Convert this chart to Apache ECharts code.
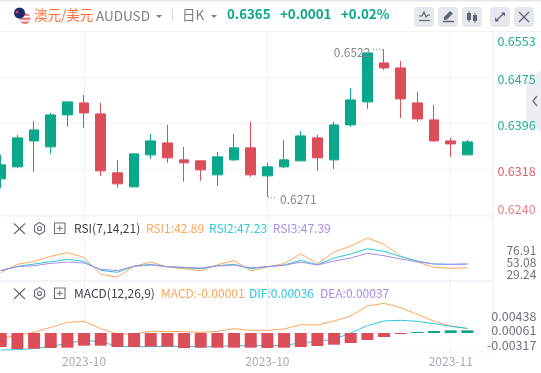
<!DOCTYPE html>
<html><head><meta charset="utf-8">
<style>html,body{margin:0;padding:0;background:#fff}#c{width:541px;height:373px}</style>
<script src="https://cdn.jsdelivr.net/npm/echarts@6/dist/echarts.min.js"></script>
</head><body><div id="c"></div>
<script>
const months=["2023-09","2023-09","2023-09","2023-09","2023-09","2023-10","2023-10","2023-10","2023-10","2023-10","2023-10","2023-10","2023-10","2023-10","2023-10","2023-10","2023-10","2023-10","2023-10","2023-10","2023-10","2023-10","2023-10","2023-10","2023-10","2023-10","2023-10","2023-11","2023-11",""];
const labelledIndexes=[5,16,27];
const opens=[.63020,.63224,.63666,.63564,.64108,.64312,.64125,.63122,.62884,.63428,.63632,.63343,.63326,.63088,.63343,.63547,.63071,.63224,.63326,.63717,.63343,.63938,.64329,.64992,.64907,.64312,.64023,.63666,.63428];
const closes=[.63258,.63717,.63853,.64108,.64329,.64142,.63156,.62935,.63445,.63666,.63377,.63292,.63173,.63394,.63547,.63088,.63224,.63343,.63751,.63377,.63938,.64363,.65162,.64907,.64380,.64040,.63666,.63615,.63649];
const lows=[.62861,.63207,.63139,.63445,.63904,.63887,.63071,.62867,.62884,.63360,.63292,.62969,.62986,.62901,.63326,.63054,.62714,.63207,.63326,.63156,.63190,.63904,.64210,.64873,.64057,.63989,.63649,.63394,.63428];
const highs=[.63428,.63768,.64006,.64142,.64329,.64448,.64312,.63343,.63445,.63785,.63938,.63564,.63326,.63479,.63785,.63989,.63292,.63683,.63836,.63768,.63989,.64567,.65162,.65224,.65026,.64500,.64278,.63717,.63683];
const priceTicks=[.6240,.6318,.6396,.6475,.6553];
const rsi1=[31.9,48.4,54.4,64.3,71.6,62.3,28.6,23.3,44.5,53.1,43.2,39.8,35.9,47.8,55.7,35.9,43.2,49.8,69.6,49.8,72.9,84.8,100.7,88.1,65,53.1,42.5,40.5,41.8];
const rsi2=[35.9,44.5,49.1,53.7,58.4,54.4,36.5,32.6,45.1,48.4,43.8,41.8,39.8,45.8,48.4,39.8,43.8,47.1,56.4,47.8,61,69,79.5,74.2,63.7,55.1,49.1,48.4,49.1];
const rsi3=[36.5,43.8,45.8,50.4,53.1,51.1,38.5,35.9,44.5,47.1,43.8,42.5,41.2,45.1,47.1,41.8,43.8,46.4,53.1,47.1,55.1,61,70.3,65.6,59,53.7,49.1,48.4,49.1];
const rsiTicks=[29.24,53.08,76.91];
const macdUpper=[-.00135,-.00063,.00018,.00152,.00287,.00314,.00117,-.00027,-.00027,.00045,.00045,.00036,.00018,.00045,.00117,.00072,.00072,.00108,.00224,.00215,.00323,.00457,.00726,.00798,.00681,.00502,.00314,.00188,.00117];
const macdLower=[-.00457,-.00448,-.00422,-.00359,-.00287,-.00188,-.00242,-.00350,-.00368,-.00368,-.00359,-.00359,-.00377,-.00359,-.00341,-.00341,-.00341,-.00332,-.00269,-.00224,-.00170,0,.00197,.00323,.00341,.00314,.00251,.00179,.00125];
const macdBars=[-.00377,-.00431,-.00422,-.00404,-.00395,-.00341,-.00341,-.00377,-.00377,-.00368,-.00368,-.00404,-.00395,-.00395,-.00395,-.00395,-.00404,-.00395,-.00377,-.00350,-.00314,-.00269,-.00188,-.00108,-.00027,.00009,.00054,.00072,.00072];
const macdTicks=[-.00317,.00061,.00438];

const GREEN='#0aa88a',RED='#dc4d5a',ORANGE='#ffa65c',CYAN='#2fc6df',PURPLE='#a88ce8',FONT='"Noto Sans CJK SC","Noto Sans",sans-serif';
const GRID='#f3f4f8',EDGE='#eef0f5',GLINE='#f2f3f7';
const chart=echarts.init(document.getElementById('c'),null,{renderer:'canvas'});
const candles=opens.map((o,i)=>[o,closes[i],lows[i],highs[i]]);
const showIdx=(i)=>labelledIndexes.includes(i);
const gridBase={left:-7.6,width:500,outerBoundsMode:'none',containLabel:false,show:true,borderColor:EDGE,borderWidth:1,backgroundColor:'transparent'};
const xBase=(showLabel)=>({type:'category',data:months,boundaryGap:true,
  axisLine:{show:false},axisTick:{show:false,alignWithLabel:true,interval:(i)=>showIdx(i)},
  splitLine:{show:true,alignWithLabel:true,interval:(i)=>showIdx(i),lineStyle:{color:GRID,width:1}},
  axisLabel:{show:showLabel,interval:(i)=>showIdx(i),color:'#a7abb9',fontSize:12,margin:3,fontFamily:FONT,hideOverlap:false,formatter:(v)=>v}});
const yBase={type:'value',position:'right',axisLine:{show:true,lineStyle:{color:EDGE}},axisTick:{show:false},
  splitLine:{show:false}};
const txt=(x,y,t,fill,size,weight,align)=>({type:'text',x:x,y:y,silent:true,z:50,style:{text:t,fill:fill,font:(weight||'normal')+' '+(size||12)+'px '+FONT,textVerticalAlign:'middle',textAlign:align||'left'}});
const line=(x1,y1,x2,y2,c,w,dash)=>({type:'line',silent:true,z:50,shape:{x1,y1,x2,y2},style:{stroke:c,lineWidth:w||1,lineDash:dash}});
const ICON='#5f6472',BTN='#e6e8ef';
const btn=(x)=>({type:'rect',silent:true,z:49,shape:{x:x,y:7,width:20,height:20,r:4},style:{fill:BTN}});
const paneIcons=(y)=>[
  line(14,y-5,25,y+5.5,'#6a6e7b',1.2),line(25,y-5,14,y+5.5,'#6a6e7b',1.2),
  {type:'polygon',silent:true,z:50,shape:{points:[[39.5,y-6],[44.5,y-3],[44.5,y+3],[39.5,y+6],[34.5,y+3],[34.5,y-3]]},style:{fill:'none',stroke:'#6a6e7b',lineWidth:1.1}},
  {type:'circle',silent:true,z:50,shape:{cx:39.5,cy:y,r:2},style:{fill:'none',stroke:'#6a6e7b',lineWidth:1.1}},
  {type:'rect',silent:true,z:50,shape:{x:54.5,y:y-5.5,width:10.5,height:10.5},style:{fill:'none',stroke:'#6a6e7b',lineWidth:1.1}},
  line(56.8,y-.2,62.8,y-.2,'#6a6e7b',1),line(59.8,y-3.2,59.8,y+2.8,'#6a6e7b',1)
];
const priceRich=(c)=>({color:c,fontSize:12.5,fontFamily:FONT,padding:[4,0,0,0]});
chart.setOption({
  animation:false,backgroundColor:'#fff',
  textStyle:{fontFamily:FONT},
  grid:[
    Object.assign({top:31.3,height:184},gridBase),
    Object.assign({top:216,height:65},gridBase),
    Object.assign({top:281,height:71},gridBase)
  ],
  xAxis:[Object.assign(xBase(false),{gridIndex:0}),Object.assign(xBase(false),{gridIndex:1}),Object.assign(xBase(true),{gridIndex:2})],
  yAxis:[
    Object.assign({},yBase,{gridIndex:0,min:.6240,max:.6553,
      axisTick:{show:false,customValues:priceTicks},
      splitLine:{show:true,lineStyle:{color:GLINE}},
      axisLabel:{customValues:priceTicks,fontSize:12.5,margin:5,fontFamily:FONT,hideOverlap:false,verticalAlignMinLabel:'bottom',verticalAlignMaxLabel:'top',
        rich:{g:priceRich('#1fb095'),r:priceRich('#e0606c'),l:priceRich('#e6808a')},
        formatter:(v)=>'{'+(v>.635?'g':(v<.63?'l':'r'))+'|'+v.toFixed(4)+'}'}}),
    Object.assign({},yBase,{gridIndex:1,min:15.4,max:144.4,
      axisTick:{show:false,customValues:rsiTicks},
      axisLabel:{customValues:rsiTicks,align:'right',margin:44,fontSize:12,color:'#6f7380',fontFamily:FONT,hideOverlap:false,formatter:(v)=>v.toFixed(2)}}),
    Object.assign({},yBase,{gridIndex:2,min:-.005111,max:.013988,
      axisTick:{show:false,customValues:macdTicks},
      axisLabel:{customValues:macdTicks,align:'right',margin:44,fontSize:12.5,color:'#6f7380',fontFamily:FONT,hideOverlap:false,formatter:(v)=>v.toFixed(5)}})
  ],
  series:[
    {type:'candlestick',xAxisIndex:0,yAxisIndex:0,data:candles,barWidth:10,
      itemStyle:{color:GREEN,color0:RED,borderColor:GREEN,borderColor0:RED,borderWidth:1},
      markPoint:{symbol:'circle',symbolSize:1,itemStyle:{color:'rgba(0,0,0,0)'},silent:true,data:[
        {coord:[23,.65224],value:'0.6522',label:{show:true,position:'inside',offset:[-32,3],color:'#85888f',fontSize:12,fontFamily:FONT,formatter:'0.6522'}},
        {coord:[16,.62714],value:'0.6271',label:{show:true,position:'inside',offset:[31,3],color:'#85888f',fontSize:12,fontFamily:FONT,formatter:'0.6271'}}
      ]}},
    {type:'line',name:'RSI1',xAxisIndex:1,yAxisIndex:1,data:rsi1,symbol:'none',lineStyle:{color:ORANGE,width:1},z:3},
    {type:'line',name:'RSI2',xAxisIndex:1,yAxisIndex:1,data:rsi2,symbol:'none',lineStyle:{color:CYAN,width:1},z:4},
    {type:'line',name:'RSI3',xAxisIndex:1,yAxisIndex:1,data:rsi3,symbol:'none',lineStyle:{color:PURPLE,width:1},z:5},
    {type:'line',name:'MACD',xAxisIndex:2,yAxisIndex:2,data:macdUpper,symbol:'none',lineStyle:{color:ORANGE,width:1},z:3},
    {type:'line',name:'DIF',xAxisIndex:2,yAxisIndex:2,data:macdLower,symbol:'none',lineStyle:{color:CYAN,width:1},z:4},
    {type:'bar',name:'HIST',xAxisIndex:2,yAxisIndex:2,data:macdBars,barWidth:12,barMinHeight:1,z:6,
      itemStyle:{color:(p)=>p.value>=0?'#0aa88a':RED}}
  ],
  graphic:[
    {type:'polygon',silent:true,z:-1,shape:{points:[[541,70],[526,82],[526,120],[541,132]]},style:{fill:'#eceef3'}},
    {type:'rect',silent:true,z:40,shape:{x:0,y:0,width:541,height:31},style:{fill:'#fff'}},
    {type:'rect',silent:true,z:41,shape:{x:0,y:0,width:541,height:1.5},style:{fill:'#e6e8ef'}},
    line(0,31.5,541,31.5,'#f3f4f7',1),
    {type:'circle',silent:true,z:50,shape:{cx:25,cy:18.5,r:5.5},style:{fill:'#e8808a'}},
    {type:'rect',silent:true,z:50,shape:{x:20,y:16,width:10,height:1.5},style:{fill:'#fff'}},
    {type:'rect',silent:true,z:50,shape:{x:20,y:20,width:10,height:1.5},style:{fill:'#fff'}},
    {type:'circle',silent:true,z:51,shape:{cx:19.5,cy:13,r:5.5},style:{fill:'#1b2a6e'}},
    {type:'circle',silent:true,z:52,shape:{cx:17,cy:12,r:1.6},style:{fill:'#d9404a'}},
    txt(34,14.5,'澳元/美元','#ff7043',13.5),
    txt(96,15.5,'AUDUSD','#7b7f8d',13.5),
    {type:'polygon',silent:true,z:50,shape:{points:[[156,15],[162,15],[159,18]]},style:{fill:'#7b7f8d'}},
    line(172.5,9,172.5,21,'#d5d8e0',1),
    txt(182,14.5,'日K','#7b7f8d',13.5),
    {type:'polygon',silent:true,z:50,shape:{points:[[211,15],[217,15],[214,18]]},style:{fill:'#7b7f8d'}},
    txt(227,14,'0.6365',GREEN,13.3,'bold'),
    txt(280,14,'+0.0001',GREEN,13.3,'bold'),
    txt(341,14,'+0.02%',GREEN,13.3,'bold'),
    btn(414),btn(438),btn(462),btn(490),btn(514),
    {type:'polyline',silent:true,z:50,shape:{points:[[419,16],[422,16],[424,12],[426,17],[428,15],[430,15]]},style:{fill:'none',stroke:ICON,lineWidth:1.2}},
    line(419,20.5,430,20.5,ICON,1.2),
    {type:'polygon',silent:true,z:50,shape:{points:[[444,17],[450,11],[453,13.5],[447,19.5],[444,20]]},style:{fill:ICON}},
    line(443,21.5,454,21.5,ICON,1.5),
    {type:'rect',silent:true,z:50,shape:{x:467,y:13,width:4,height:7},style:{fill:ICON}},
    line(469,11,469,22,ICON,1),
    {type:'rect',silent:true,z:50,shape:{x:473,y:15,width:4,height:6},style:{fill:ICON}},
    line(475,13,475,23,ICON,1),
    line(496,21,504,13,ICON,1.2),
    {type:'polygon',silent:true,z:50,shape:{points:[[501,12.5],[505,12.5],[505,16.5]]},style:{fill:ICON}},
    {type:'polygon',silent:true,z:50,shape:{points:[[495,17.5],[495,21.5],[499,21.5]]},style:{fill:ICON}},
    line(519,12,529,22,ICON,1.2),line(529,12,519,22,ICON,1.2),
    {type:'polyline',silent:true,z:50,shape:{points:[[537,96],[533,101],[537,106]]},style:{fill:'none',stroke:'#6a6e7b',lineWidth:1.3}},
    line(373,49.5,383,49.5,'#9a9da5',1.5,[1,2]),
    line(268,197.5,277,197.5,'#9a9da5',1.5,[1,2]),
    ...paneIcons(228.5),
    txt(74,228.5,'RSI(7,14,21)','#3f424c',12),
    txt(146,228.5,'RSI1:42.89',ORANGE,12),
    txt(209,228.5,'RSI2:47.23',CYAN,12),
    txt(272.7,228.5,'RSI3:47.39',PURPLE,12),
    ...paneIcons(293.5),
    txt(74,293.5,'MACD(12,26,9)','#3f424c',12),
    txt(161,293.5,'MACD:-0.00001',ORANGE,12),
    txt(249,293.5,'DIF:0.00036',CYAN,12),
    txt(320,293.5,'DEA:0.00037',PURPLE,12)
  ]
});
</script></body></html>
